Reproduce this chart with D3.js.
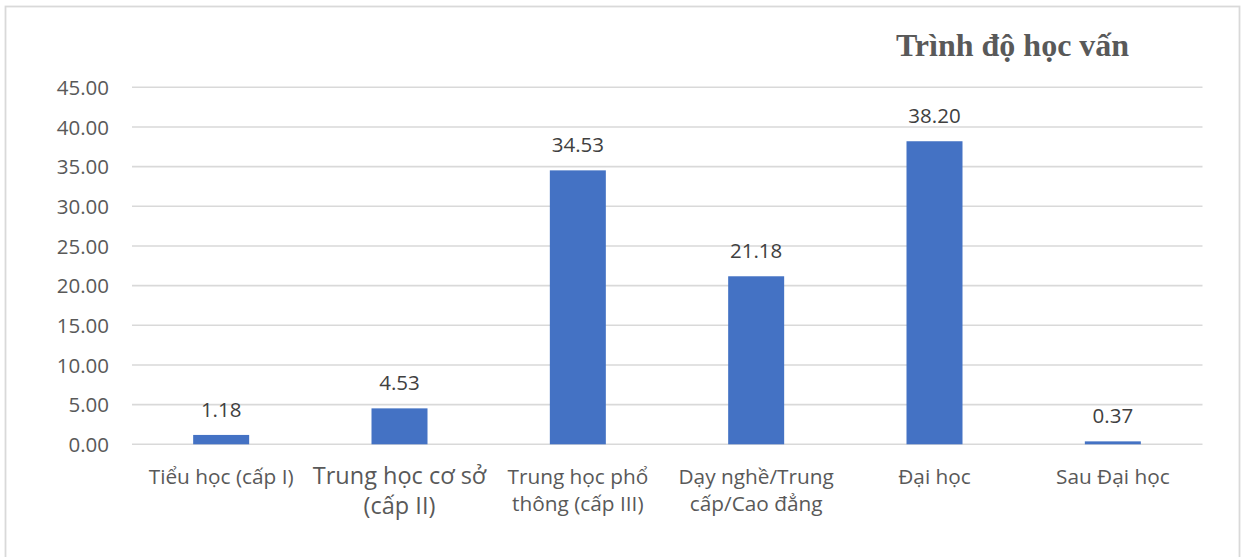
<!DOCTYPE html>
<html>
<head>
<meta charset="utf-8">
<script src="https://cdn.jsdelivr.net/npm/d3@7"></script>
<style>
  html, body { margin: 0; padding: 0; background: #fff; }
  svg { display: block; }
</style>
</head>
<body>
<svg id="chart" width="1243" height="557"></svg>
<script>
const categories = [
  "Tiểu học (cấp I)",
  "Trung học cơ sở (cấp II)",
  "Trung học phổ thông (cấp III)",
  "Dạy nghề/Trung cấp/Cao đẳng",
  "Đại học",
  "Sau Đại học"
];
const categoryLines = [
  ["Tiểu học (cấp I)"],
  ["Trung học cơ sở", "(cấp II)"],
  ["Trung học phổ", "thông (cấp III)"],
  ["Dạy nghề/Trung", "cấp/Cao đẳng"],
  ["Đại học"],
  ["Sau Đại học"]
];
const values = [1.18, 4.53, 34.53, 21.18, 38.20, 0.37];
const yTicks = [0, 5, 10, 15, 20, 25, 30, 35, 40, 45];
const title = "Trình độ học vấn";

const svg = d3.select("#chart");
const font = "'Open Sans', 'Noto Sans', sans-serif";

// outer border
svg.append("rect")
  .attr("x", 5.5).attr("y", 6.5)
  .attr("width", 1234).attr("height", 570)
  .attr("fill", "none")
  .attr("stroke", "#d9d9d9")
  .attr("stroke-width", 1.8);

const x = d3.scaleBand()
  .domain(categories)
  .range([132, 1202])
  .paddingInner(0.686)
  .paddingOuter(0.343);

const y = d3.scaleLinear()
  .domain([0, 45])
  .range([444.3, 87.3]);

// gridlines
svg.append("g")
  .selectAll("line")
  .data(yTicks)
  .join("line")
  .attr("x1", 132).attr("x2", 1202.5)
  .attr("y1", d => y(d)).attr("y2", d => y(d))
  .attr("stroke", "#d9d9d9")
  .attr("stroke-width", 1.6);

// y axis labels
const yAxis = d3.axisLeft(y)
  .tickValues(yTicks)
  .tickFormat(d3.format(".2f"))
  .tickSize(0)
  .tickPadding(0);
const yg = svg.append("g")
  .attr("transform", "translate(109,0)")
  .call(yAxis);
yg.select(".domain").remove();
yg.selectAll("text")
  .attr("font-family", font)
  .attr("font-size", 20.5)
  .attr("fill", "#595959")
  .attr("dy", "0.35em");

// bars
svg.append("g")
  .selectAll("rect")
  .data(values)
  .join("rect")
  .attr("x", (d, i) => x(categories[i]))
  .attr("width", x.bandwidth())
  .attr("y", d => y(d))
  .attr("height", d => y(0) - y(d))
  .attr("fill", "#4472c4");

// data labels
svg.append("g")
  .selectAll("text")
  .data(values)
  .join("text")
  .attr("x", (d, i) => x(categories[i]) + x.bandwidth() / 2)
  .attr("y", d => y(d) - 18)
  .attr("text-anchor", "middle")
  .attr("font-family", font)
  .attr("font-size", 20.5)
  .attr("fill", "#404040")
  .text(d => d3.format(".2f")(d));

// x axis labels
const xl = svg.append("g")
  .selectAll("text")
  .data(categories)
  .join("text")
  .attr("text-anchor", "middle")
  .attr("font-family", font)
  .attr("font-size", (d, i) => i === 1 ? 23.5 : 20.8)
  .attr("fill", "#595959")
  .attr("x", d => x(d) + x.bandwidth() / 2)
  .attr("y", 483.5);
xl.each(function(d, i) {
  const t = d3.select(this);
  const lh = i === 1 ? 30 : 27.5;
  t.selectAll("tspan")
    .data(categoryLines[i])
    .join("tspan")
    .attr("x", t.attr("x"))
    .attr("dy", (s, j) => j === 0 ? 0 : lh)
    .text(s => s);
});

// title
svg.append("text")
  .attr("x", 1012.5)
  .attr("y", 56)
  .attr("text-anchor", "middle")
  .attr("font-family", "'Liberation Serif', 'DejaVu Serif', serif")
  .attr("font-weight", "bold")
  .attr("font-size", 32)
  .attr("fill", "#595959")
  .text(title);
</script>
</body>
</html>
